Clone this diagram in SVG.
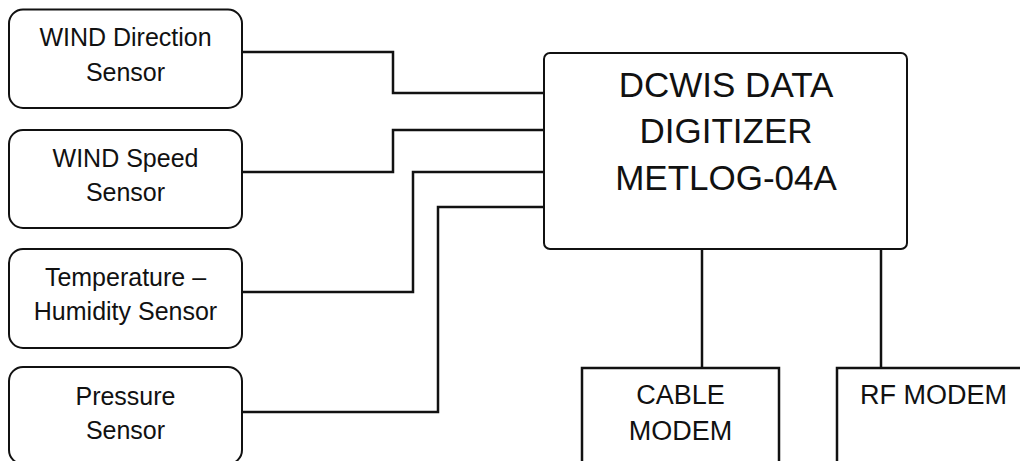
<svg xmlns="http://www.w3.org/2000/svg" width="1020" height="461" viewBox="0 0 1020 461">
<style>
.box{fill:#fff;stroke:#111;stroke-width:2}
.sq{fill:#fff;stroke:#111;stroke-width:2.5}
.t{font-family:"Liberation Sans",Arial,sans-serif;fill:#111;text-anchor:middle}
.s{font-size:25px}
.m{font-size:35px}
.c{font-size:27px}
.w{fill:none;stroke:#111;stroke-width:2.5;stroke-linejoin:miter}
</style>
<rect width="1020" height="461" fill="#fff"/>
<g id="connectors">
<polyline class="w" points="242,52 393,52 393,93 544,93"/>
<polyline class="w" points="242,172 393,172 393,130 544,130"/>
<polyline class="w" points="242,292 413,292 413,172 544,172"/>
<polyline class="w" points="242,412 438,412 438,207 544,207"/>
<line class="w" x1="702" y1="249" x2="702" y2="368"/>
<line class="w" x1="881" y1="249" x2="881" y2="368"/>
</g>
<g id="wind-direction">
<rect class="box" x="9" y="9.5" width="233" height="98.5" rx="14"/>
<text class="t s" x="125.5" y="46">WIND Direction</text>
<text class="t s" x="125.5" y="81">Sensor</text>
</g>
<g id="wind-speed">
<rect class="box" x="9" y="130" width="233" height="98" rx="14"/>
<text class="t s" x="125.5" y="167">WIND Speed</text>
<text class="t s" x="125.5" y="201">Sensor</text>
</g>
<g id="temp-humidity">
<rect class="box" x="9" y="249" width="233" height="99" rx="14"/>
<text class="t s" x="125.5" y="286">Temperature –</text>
<text class="t s" x="125.5" y="320">Humidity Sensor</text>
</g>
<g id="pressure">
<rect class="box" x="9" y="367" width="233" height="97" rx="14"/>
<text class="t s" x="125.5" y="405">Pressure</text>
<text class="t s" x="125.5" y="439">Sensor</text>
</g>
<g id="digitizer">
<rect class="box" x="544" y="53" width="363" height="196" rx="6"/>
<text class="t m" x="726" y="97">DCWIS DATA</text>
<text class="t m" x="726" y="143">DIGITIZER</text>
<text class="t m" x="726" y="190">METLOG-04A</text>
</g>
<g id="cable-modem">
<rect class="sq" x="582" y="368" width="197" height="110"/>
<text class="t c" x="680.5" y="404">CABLE</text>
<text class="t c" x="680.5" y="440">MODEM</text>
</g>
<g id="rf-modem">
<rect class="sq" x="837" y="368" width="200" height="110"/>
<text class="t c" x="933.5" y="404">RF MODEM</text>
</g>
</svg>
